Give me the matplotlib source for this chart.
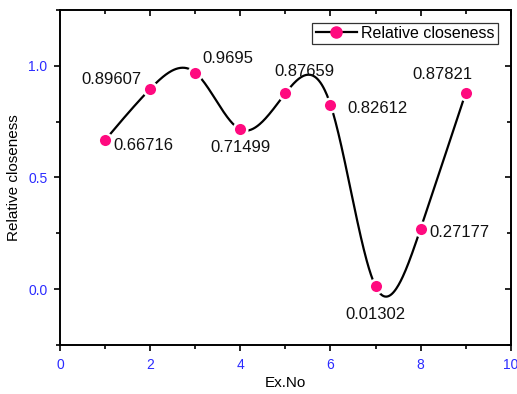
import matplotlib.pyplot as plt
import numpy as np
from matplotlib.ticker import MultipleLocator

plt.rcParams['font.family'] = ['Liberation Sans', 'DejaVu Sans']

# --- data ---
ex_no = [1, 2, 3, 4, 5, 6, 7, 8, 9]
closeness = [0.66716, 0.89607, 0.9695, 0.71499, 0.87659, 0.82612, 0.01302, 0.27177, 0.87821]
labels = ['0.66716', '0.89607', '0.9695', '0.71499', '0.87659', '0.82612', '0.01302', '0.27177', '0.87821']
# label offsets in points (dx, dy) and alignment
offsets = [(6, -4, 'left'), (-6, 7, 'right'), (5, 10, 'left'), (0, -13, 'center'),
           (14, 16, 'center'), (12, -3, 'left'), (0, -20, 'center'), (6, -3, 'left'), (-17, 13, 'center')]


def natural_spline(x, y, n=500):
    # smooth connecting line like Origin's spline
    x = np.asarray(x, float)
    y = np.asarray(y, float)
    k = len(x)
    h = np.diff(x)
    A = np.zeros((k, k))
    b = np.zeros(k)
    A[0, 0] = A[-1, -1] = 1
    for i in range(1, k - 1):
        A[i, i - 1] = h[i - 1]
        A[i, i] = 2 * (h[i - 1] + h[i])
        A[i, i + 1] = h[i]
        b[i] = 6 * ((y[i + 1] - y[i]) / h[i] - (y[i] - y[i - 1]) / h[i - 1])
    M = np.linalg.solve(A, b)
    xs = np.linspace(x[0], x[-1], n)
    idx = np.clip(np.searchsorted(x, xs) - 1, 0, k - 2)
    x0, x1 = x[idx], x[idx + 1]
    hh = x1 - x0
    t0, t1 = x1 - xs, xs - x0
    ys = (M[idx] * t0**3 + M[idx + 1] * t1**3) / (6 * hh) \
        + (y[idx] / hh - M[idx] * hh / 6) * t0 + (y[idx + 1] / hh - M[idx + 1] * hh / 6) * t1
    return xs, ys


fig = plt.figure(figsize=(5.17, 3.94), dpi=100)
ax = fig.add_axes([0.116, 0.124, 0.872, 0.851])

pink = '#ff0a7f'
xs, ys = natural_spline(ex_no, closeness)
ax.plot(xs, ys, color='black', linewidth=1.6, zorder=2)
ax.plot(ex_no, closeness, linestyle='none', marker='o', markersize=9.8,
        markerfacecolor=pink, markeredgecolor='white', markeredgewidth=1.8, zorder=3)

# legend proxy
ax.plot([], [], color='black', linewidth=1.6, marker='o', markersize=8,
        markerfacecolor=pink, markeredgecolor=pink, label='Relative closeness')

for xv, yv, txt, (dx, dy, ha) in zip(ex_no, closeness, labels, offsets):
    ax.annotate(txt, (xv, yv), textcoords='offset points', xytext=(dx, dy),
                ha=ha, va='center', fontsize=12, color='#111111')

ax.set_xlim(0, 10)
ax.set_ylim(-0.25, 1.25)
ax.xaxis.set_major_locator(MultipleLocator(2))
ax.xaxis.set_minor_locator(MultipleLocator(1))
ax.yaxis.set_major_locator(MultipleLocator(0.5))
ax.yaxis.set_minor_locator(MultipleLocator(0.25))

ax.tick_params(which='both', direction='out', labelsize=10, labelcolor='#2b2bff', width=1.2)
ax.tick_params(which='major', length=4, pad=5)
ax.tick_params(which='minor', length=3)
for s in ax.spines.values():
    s.set_linewidth(1.4)

# mirror ticks on top/right point inward
ax.tick_params(axis='x', which='both', top=True, labeltop=False)
ax.tick_params(axis='y', which='both', right=True, labelright=False)
for t in ax.xaxis.get_major_ticks() + ax.xaxis.get_minor_ticks():
    t.tick2line.set_marker(3)
for t in ax.yaxis.get_major_ticks() + ax.yaxis.get_minor_ticks():
    t.tick2line.set_marker(0)

ax.set_xlabel('Ex.No', fontsize=11, labelpad=3)
ax.set_ylabel('Relative closeness', fontsize=11, labelpad=5)

leg = ax.legend(loc='upper right', fontsize=11.5, frameon=True, fancybox=False,
                edgecolor='black', borderpad=0.2, handlelength=2.6, handletextpad=0.25,
                borderaxespad=0, bbox_to_anchor=(0.971, 0.962))
leg.get_frame().set_linewidth(0.9)

plt.savefig('out.png', dpi=100)
